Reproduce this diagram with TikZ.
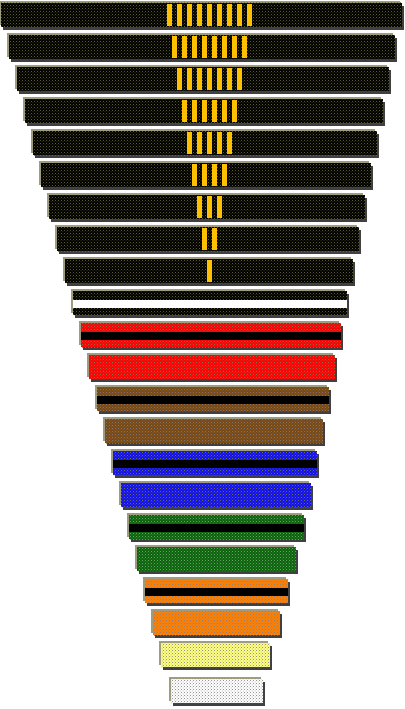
\documentclass[tikz,border=0pt]{standalone}
\usetikzlibrary{patterns}
\definecolor{beltrim}{RGB}{160,156,128}
\definecolor{beltshadow}{RGB}{64,64,64}
\definecolor{beltgold}{RGB}{255,192,0}
\definecolor{beltred}{RGB}{255,0,0}
\definecolor{beltbrown}{RGB}{122,72,16}
\definecolor{beltblue}{RGB}{16,16,240}
\definecolor{beltgreen}{RGB}{8,100,8}
\definecolor{beltorange}{RGB}{255,128,0}
\definecolor{beltyellow}{RGB}{255,255,128}
\definecolor{dotolive}{RGB}{112,112,56}
\definecolor{dotred}{RGB}{128,128,96}
\definecolor{dotbrown}{RGB}{128,128,144}
\definecolor{dotblue}{RGB}{128,128,64}
\definecolor{dotgreen}{RGB}{136,168,136}
\definecolor{dotgray}{RGB}{128,128,128}

\begin{document}
\begin{tikzpicture}[x=1pt,y=-1pt,line join=miter]
  \useasboundingbox (0,0) rectangle (404,709);

  \foreach \l/\t/\r/\c/\d in {1/3/402/black/dotolive, 9/35/395/black/dotolive,
      17/67/389/black/dotolive, 25/99/383/black/dotolive, 33/131/377/black/dotolive,
      41/163/371/black/dotolive, 49/195/365/black/dotolive, 57/227/359/black/dotolive,
      65/259/353/black/dotolive, 73/291/347/black/dotolive,
      81/323/341/beltred/dotred, 89/355/335/beltred/dotred,
      97/387/329/beltbrown/dotbrown, 105/419/323/beltbrown/dotbrown,
      113/451/317/beltblue/dotblue, 121/483/311/beltblue/dotblue,
      129/515/304/beltgreen/dotgreen, 137/547/296/beltgreen/dotgreen,
      145/579/288/beltorange/dotbrown, 153/611/280/beltorange/dotbrown,
      161/643/270/beltyellow/dotgray, 171/679/263/white/dotgray} {
    \fill[beltrim] (\l-2,\t-2) rectangle (\r-2,\t+22);
    \fill[beltshadow] (\l+2,\t+3) rectangle (\r+2,\t+27);
    \fill[\c,postaction={pattern=crosshatch dots,pattern color=\d}]
      (\l,\t) rectangle (\r,\t+24);
  }

  \foreach \i in {0,...,8} {
    \pgfmathtruncatemacro\n{9-\i}
    \foreach \k in {1,...,\n}
      \fill[beltgold] ({209.5+(\k-(\n+1)/2)*10-2.25},{4+32*\i}) rectangle +(4.5,22);
  }

  \foreach \t/\l/\r/\c in {291/73/347/white, 323/81/341/black, 387/97/329/black,
      451/113/317/black, 515/129/304/black, 579/145/288/black}
    \fill[\c] (\l,\t+9) rectangle (\r,\t+17);
\end{tikzpicture}
\end{document}
